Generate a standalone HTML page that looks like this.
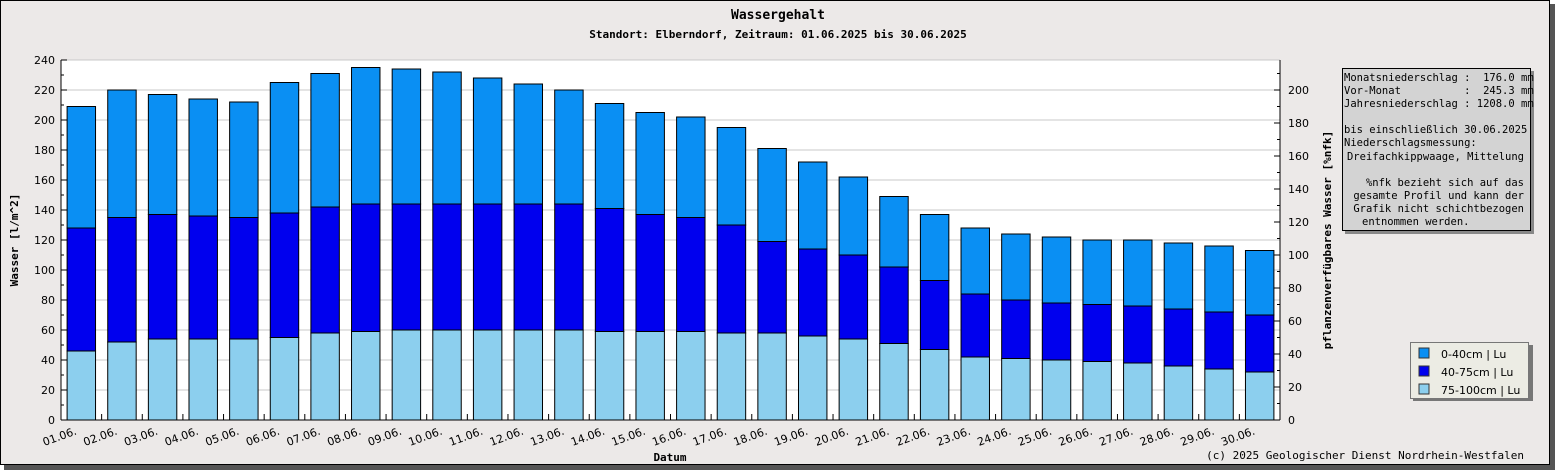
<!DOCTYPE html>
<html><head><meta charset="utf-8"><style>
body{margin:0;background:#fff;}
svg{display:block;font-family:"DejaVu Sans Mono","Liberation Mono",monospace;}
</style></head><body>
<svg id="c" width="1555" height="470" xmlns="http://www.w3.org/2000/svg">
<rect x="4" y="4" width="1551" height="466" fill="#555"/>
<rect x="0.5" y="0.5" width="1549" height="464" fill="#ece9e8" stroke="#000"/>
<text x="778" y="19" text-anchor="middle" font-size="13" font-weight="bold">Wassergehalt</text>
<text x="778" y="38" text-anchor="middle" font-size="11" font-weight="bold">Standort: Elberndorf, Zeitraum: 01.06.2025 bis 30.06.2025</text>
<rect x="61" y="60" width="1219" height="360" fill="#fff"/>
<g id="grid"></g><g id="bars"></g><g id="axes"></g>
<text transform="translate(18,240) rotate(-90)" text-anchor="middle" font-size="11" font-weight="bold">Wasser [l/m^2]</text>
<text transform="translate(1331,240) rotate(-90)" text-anchor="middle" font-size="11" font-weight="bold">pflanzenverfügbares Wasser [%nfk]</text>
<text x="670" y="461" text-anchor="middle" font-size="11" font-weight="bold">Datum</text>
<text x="1524" y="459" text-anchor="end" font-size="11">(c) 2025 Geologischer Dienst Nordrhein-Westfalen</text>
<g font-size="10.5">
<rect x="1345" y="71" width="189" height="163" fill="#888"/>
<rect x="1342.5" y="68.5" width="188" height="162" fill="#d3d3d3" stroke="#000"/>
<text x="1344" y="81" xml:space="preserve">Monatsniederschlag :  176.0 mm</text>
<text x="1344" y="94" xml:space="preserve">Vor-Monat          :  245.3 mm</text>
<text x="1344" y="107" xml:space="preserve">Jahresniederschlag : 1208.0 mm</text>
<text x="1344" y="133">bis einschließlich 30.06.2025</text>
<text x="1344" y="146">Niederschlagsmessung:</text>
<text x="1524" y="160" text-anchor="end">Dreifachkippwaage, Mittelung</text>
<text x="1524" y="186" text-anchor="end">%nfk bezieht sich auf das</text>
<text x="1524" y="199" text-anchor="end">gesamte Profil und kann der</text>
<text x="1524" y="212" text-anchor="end">Grafik nicht schichtbezogen</text>
<text x="1362" y="225">entnommen werden.</text>
</g>
<g font-family="DejaVu Sans, Liberation Sans, sans-serif" font-size="11">
<rect x="1413" y="345" width="120" height="56" fill="#777"/>
<rect x="1410.5" y="342.5" width="118" height="56" fill="#ecece4" stroke="#777"/>
<rect x="1419" y="348" width="10" height="10" fill="#0a8ff3" stroke="#333"/>
<text x="1441" y="358">0-40cm | Lu</text>
<rect x="1419" y="366" width="10" height="10" fill="#0000ee" stroke="#333"/>
<text x="1441" y="376">40-75cm | Lu</text>
<rect x="1419" y="384" width="10" height="10" fill="#8ccfee" stroke="#333"/>
<text x="1441" y="394">75-100cm | Lu</text>
</g>
</svg>
<script>
const categories=["01.06.","02.06.","03.06.","04.06.","05.06.","06.06.","07.06.","08.06.","09.06.","10.06.","11.06.","12.06.","13.06.","14.06.","15.06.","16.06.","17.06.","18.06.","19.06.","20.06.","21.06.","22.06.","23.06.","24.06.","25.06.","26.06.","27.06.","28.06.","29.06.","30.06."];
const layer75_100=[46,52,54,54,54,55,58,59,60,60,60,60,60,59,59,59,58,58,56,54,51,47,42,41,40,39,38,36,34,32];
const layer40_75=[82,83,83,82,81,83,84,85,84,84,84,84,84,82,78,76,72,61,58,56,51,46,42,39,38,38,38,38,38,38];
const layer0_40=[81,85,80,78,77,87,89,91,90,88,84,80,76,70,68,67,65,62,58,52,47,44,44,44,44,43,44,44,44,43];
const leftTicks=[0,20,40,60,80,100,120,140,160,180,200,220,240];
const rightTicks=[0,20,40,60,80,100,120,140,160,180,200];
const NS="http://www.w3.org/2000/svg";
const X0=61,X1=1280,Y0=420,Y1=60;
const band=(X1-X0)/categories.length;
const y=v=>Y0-(v/240)*(Y0-Y1);
const y2=v=>Y0-v*1.65;
function mk(tag,attrs,parent){const e=document.createElementNS(NS,tag);for(const k in attrs)e.setAttribute(k,attrs[k]);parent.appendChild(e);return e;}
const grid=document.getElementById('grid'),bars=document.getElementById('bars'),axes=document.getElementById('axes');
leftTicks.forEach(t=>{
  const l=mk('line',{x1:X0,x2:X1,y1:y(t),y2:y(t),stroke:'#c8c8c8'},grid);
  
  
  const tx=mk('text',{x:X0-6,y:y(t)+4,'text-anchor':'end','font-size':'11','font-family':'DejaVu Sans, sans-serif'},axes);
  tx.textContent=t;
  
  
  mk('line',{x1:X0,x2:X0+6,y1:y(t),y2:y(t),stroke:'#000'},axes);
  if(t<240)mk('line',{x1:X0,x2:X0+3,y1:y(t+10),y2:y(t+10),stroke:'#000'},axes);
});
rightTicks.forEach(t=>{
  const tx=mk('text',{x:X1+8,y:y2(t)+4,'font-size':'11','font-family':'DejaVu Sans, sans-serif'},axes);
  tx.textContent=t;
  
  
  mk('line',{x1:X1-6,x2:X1,y1:y2(t),y2:y2(t),stroke:'#000'},axes);
  if(t<200)mk('line',{x1:X1-3,x2:X1,y1:y2(t+10),y2:y2(t+10),stroke:'#000'},axes);
});
mk('line',{x1:X1-3,x2:X1,y1:y2(210),y2:y2(210),stroke:'#000'},axes);
mk('line',{x1:X0,x2:X0,y1:Y1,y2:Y0,stroke:'#000'},axes);
mk('line',{x1:X1,x2:X1,y1:Y1,y2:Y0,stroke:'#000'},axes);
mk('line',{x1:X0,x2:X1,y1:Y0,y2:Y0,stroke:'#000'},axes);
const bw=band*0.7;
categories.forEach((c,i)=>{
  const cx=X0+band*(i+0.5),bx=cx-bw/2;
  const a=layer75_100[i],b=a+layer40_75[i],t=b+layer0_40[i];
  const segs=[[0,a,'#8ccfee','bar-75-100cm'],[a,b,'#0000ee','bar-40-75cm'],[b,t,'#0a8ff3','bar-0-40cm']];
  segs.forEach(s=>{
    const r=mk('rect',{x:bx,y:y(s[1]),width:bw,height:y(s[0])-y(s[1]),fill:s[2],stroke:'#000','stroke-width':'1'},bars);
    
    
  });
  if(i>0)mk('line',{x1:X0+band*i,x2:X0+band*i,y1:Y0,y2:Y0-6,stroke:'#000'},axes);
  const tx=mk('text',{x:cx-4,y:Y0+14,'text-anchor':'end','font-size':'11','font-family':'DejaVu Sans, sans-serif',transform:`rotate(-20 ${cx-4} ${Y0+14})`},axes);
  tx.textContent=c;
  
  
});
</script>
</body></html>
